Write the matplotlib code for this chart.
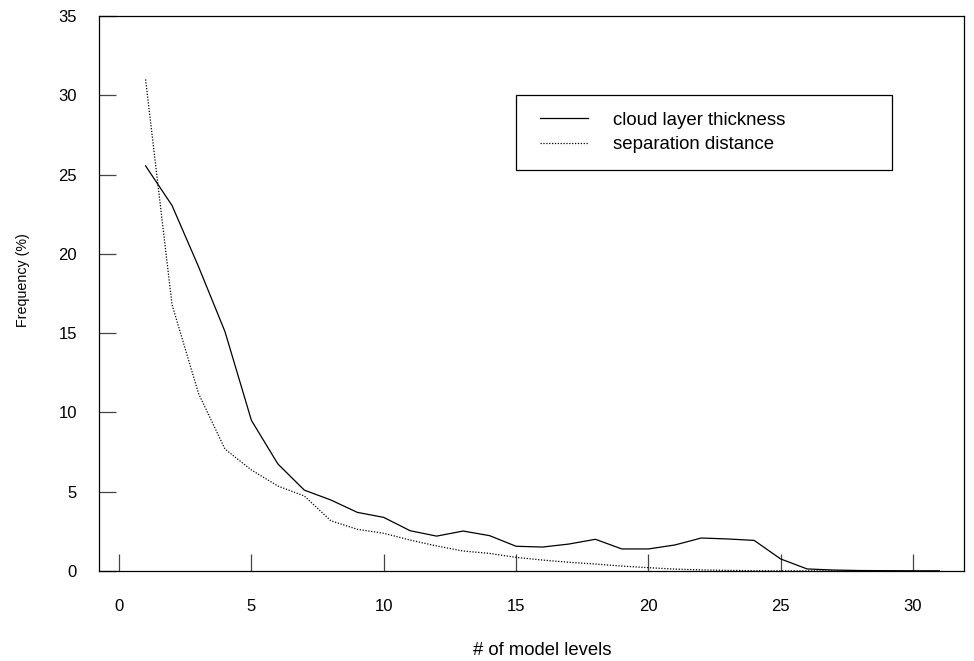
import matplotlib
matplotlib.use('Agg')
import matplotlib.pyplot as plt
from matplotlib.legend_handler import HandlerLine2D

plt.rcParams['font.family'] = ['Liberation Sans', 'DejaVu Sans']

levels = list(range(1, 32))
cloud_thickness = [25.55, 23.05, 19.2, 15.1, 9.5, 6.75, 5.1, 4.48, 3.7, 3.38,
                   2.54, 2.2, 2.52, 2.23, 1.56, 1.51, 1.70, 2.0, 1.39, 1.39,
                   1.64, 2.08, 2.02, 1.93, 0.76, 0.13, 0.06, 0.03, 0.02, 0.01, 0.01]
separation = [31.0, 16.8, 11.2, 7.69, 6.37, 5.36, 4.73, 3.17, 2.63, 2.38,
              1.95, 1.58, 1.26, 1.11, 0.86, 0.69, 0.55, 0.44, 0.31, 0.21,
              0.12, 0.07, 0.04, 0.02, 0.01, 0.01, 0.0, 0.0, 0.0, 0.0, 0.0]
xticks = [0, 5, 10, 15, 20, 25, 30]
yticks = [0, 5, 10, 15, 20, 25, 30, 35]

fig = plt.figure(figsize=(9.74, 6.61), dpi=100)
ax = fig.add_axes([99/974, 90/661, 865/974, 555/661])

l1, = ax.plot(levels, cloud_thickness, color='black', lw=0.9, label='cloud layer thickness')
l2, = ax.plot(levels, separation, color='black', lw=0.9, linestyle=(0, (1, 1.3)),
              label='separation distance')

ax.set_xlim(-0.76, 31.93)
ax.set_ylim(0, 35)
ax.set_xticks(xticks)
ax.set_yticks(yticks)
ax.tick_params(direction='in', length=12, width=0.9, color='#444444',
               labelsize=12)
ax.tick_params(axis='x', pad=20)
ax.tick_params(axis='y', pad=16)
for s in ax.spines.values():
    s.set_linewidth(0.9)

ax.set_xlabel('# of model levels', fontsize=13.3, labelpad=20.5, x=0.512)
ax.set_ylabel('Frequency (%)', fontsize=10.3, labelpad=20.5, y=0.524)

# legend: frame wider than the entries, line starts a bit in from the edge
hm = {l1: HandlerLine2D(xpad=0.39), l2: HandlerLine2D(xpad=0.39)}
leg = ax.legend(loc='upper left', bbox_to_anchor=(0.4817, 0.7243, 0.435, 0.1334),
                mode='expand', fontsize=13.4, handlelength=2.97, handletextpad=1.34,
                borderpad=0.9, labelspacing=0.40, fancybox=False, framealpha=1,
                edgecolor='black', borderaxespad=0, handler_map=hm)
leg.get_frame().set_linewidth(0.9)

fig.savefig('out.png', dpi=100)
